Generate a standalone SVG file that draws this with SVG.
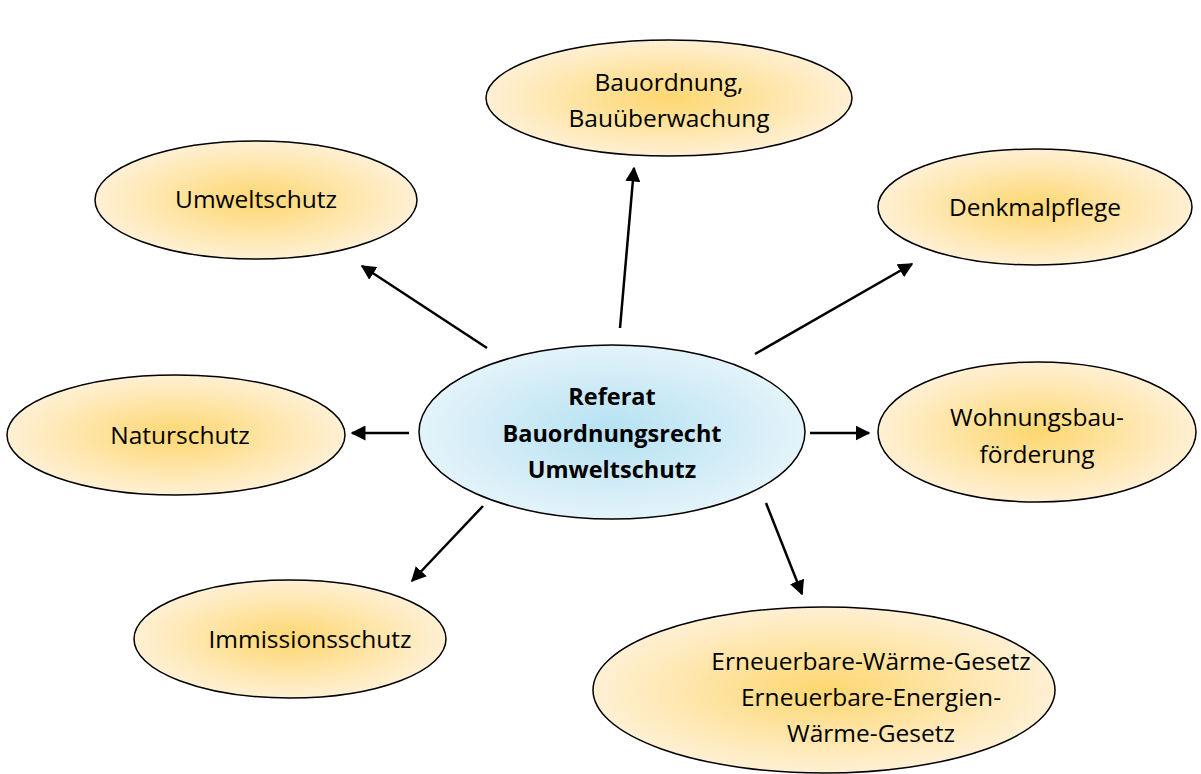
<svg xmlns="http://www.w3.org/2000/svg" width="1201" height="774" viewBox="0 0 1201 774">
<defs>
<radialGradient id="gy" cx="50%" cy="50%" r="50%">
<stop offset="0" stop-color="#fdd770"/>
<stop offset="1" stop-color="#fff0d4"/>
</radialGradient>
<radialGradient id="gb" cx="50%" cy="50%" r="50%">
<stop offset="0" stop-color="#b5e1f2"/>
<stop offset="1" stop-color="#e3f3fa"/>
</radialGradient>
<marker id="ah" viewBox="0 0 10 10" refX="9" refY="5" markerWidth="6" markerHeight="6" markerUnits="strokeWidth" orient="auto">
<path d="M0,0 L10,5 L0,10 z" fill="#000"/>
</marker>
<style>
.n{fill:url(#gy);stroke:#000;stroke-width:1.5}
.c{fill:url(#gb);stroke:#000;stroke-width:1.5}
.t{font-family:"Open Sans","Liberation Sans",sans-serif;font-size:24.5px;fill:#000;text-anchor:middle}
.b{font-weight:bold;font-size:23.5px}
.e{stroke:#000;stroke-width:2.5;fill:none;marker-end:url(#ah)}
</style>
</defs>
<g id="connectors">
<line class="e" x1="487" y1="348" x2="362" y2="266"/>
<line class="e" x1="620" y1="328" x2="634" y2="168"/>
<line class="e" x1="755" y1="354" x2="912" y2="264"/>
<line class="e" x1="409" y1="433" x2="352" y2="433"/>
<line class="e" x1="810" y1="433" x2="869" y2="433"/>
<line class="e" x1="483" y1="506" x2="412" y2="581"/>
<line class="e" x1="766" y1="503" x2="802" y2="594"/>
</g>
<g id="center">
<ellipse class="c" cx="612" cy="432" rx="193" ry="87"/>
<text class="t b" x="612" y="405">Referat</text>
<text class="t b" x="612" y="442">Bauordnungsrecht</text>
<text class="t b" x="612" y="478">Umweltschutz</text>
</g>
<g id="bauordnung">
<ellipse class="n" cx="669" cy="98" rx="183" ry="58"/>
<text class="t" x="669" y="91">Bauordnung,</text>
<text class="t" x="669" y="127">Bauüberwachung</text>
</g>
<g id="umweltschutz">
<ellipse class="n" cx="256" cy="200" rx="161" ry="59"/>
<text class="t" x="256" y="208">Umweltschutz</text>
</g>
<g id="denkmalpflege">
<ellipse class="n" cx="1035" cy="207" rx="157" ry="58"/>
<text class="t" x="1035" y="216">Denkmalpflege</text>
</g>
<g id="naturschutz">
<ellipse class="n" cx="176" cy="435" rx="169" ry="60"/>
<text class="t" x="180" y="444">Naturschutz</text>
</g>
<g id="wohnungsbau">
<ellipse class="n" cx="1037" cy="432" rx="159" ry="70"/>
<text class="t" x="1037" y="426">Wohnungsbau-</text>
<text class="t" x="1037" y="463">förderung</text>
</g>
<g id="immissionsschutz">
<ellipse class="n" cx="290" cy="639" rx="156" ry="59"/>
<text class="t" x="310" y="648">Immissionsschutz</text>
</g>
<g id="erneuerbare">
<ellipse class="n" cx="824" cy="690" rx="231" ry="83"/>
<text class="t" x="871" y="670">Erneuerbare-Wärme-Gesetz</text>
<text class="t" x="871" y="706">Erneuerbare-Energien-</text>
<text class="t" x="871" y="742">Wärme-Gesetz</text>
</g>
</svg>
